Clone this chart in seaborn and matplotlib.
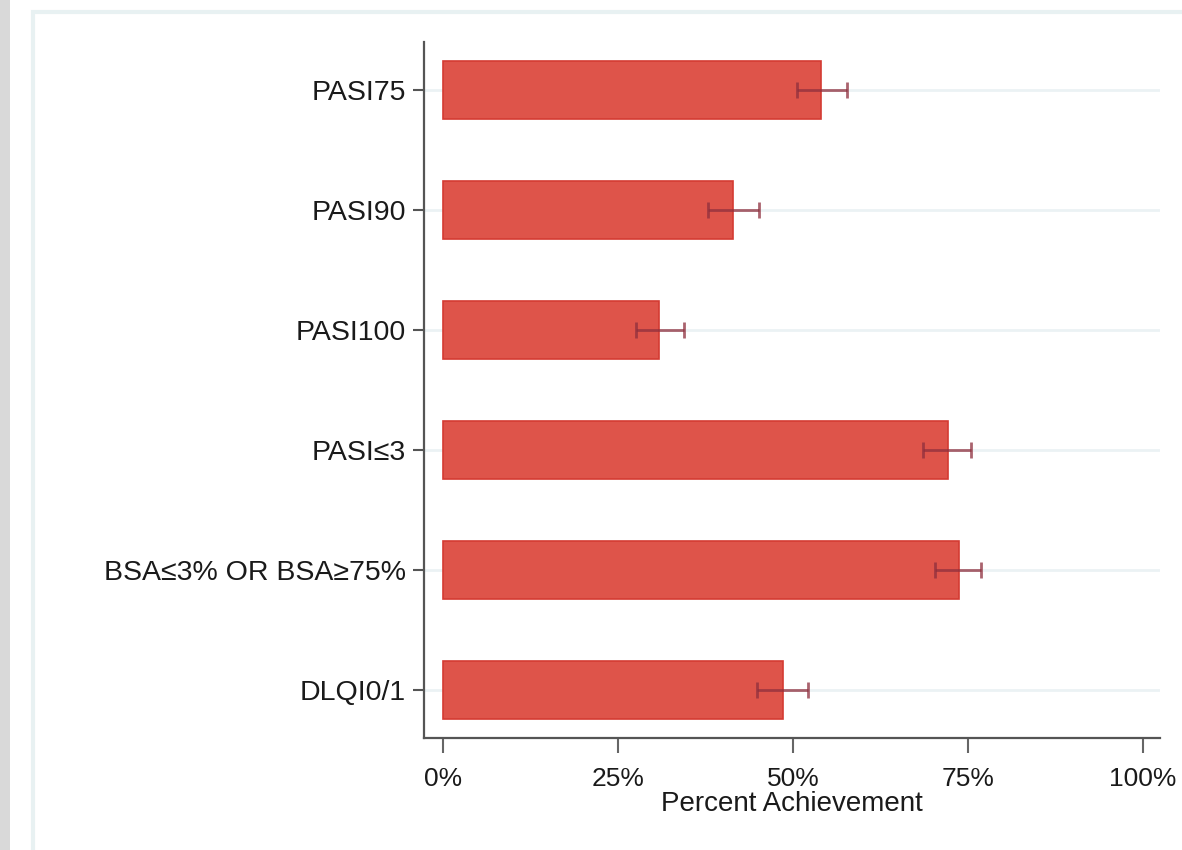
import matplotlib
matplotlib.use("Agg")
import matplotlib.pyplot as plt
import matplotlib.patches as mpatches
import seaborn as sns
import pandas as pd
import numpy as np
from matplotlib.ticker import FuncFormatter

# Outcome measures and percent achieved, with 95% confidence limits
outcomes = ["PASI75", "PASI90", "PASI100", "PASI≤3", "BSA≤3% OR BSA≥75%", "DLQI0/1"]
percent = [54.0, 41.4, 30.9, 72.1, 73.7, 48.5]
ci_low = [50.5, 37.9, 27.6, 68.6, 70.3, 44.8]
ci_high = [57.7, 45.1, 34.4, 75.4, 76.9, 52.2]
xticks = [0, 25, 50, 75, 100]

sns.set_theme(style="white")
plt.rcParams["font.family"] = ["Liberation Sans", "DejaVu Sans"]

df = pd.DataFrame({"outcome": outcomes, "percent": percent})

fig = plt.figure(figsize=(11.82, 8.5), dpi=100)
fig.patch.set_facecolor("white")

# page background: grey strip on the left and a faint panel outline
fig.add_artist(mpatches.Rectangle((0, 0), 10 / 1182, 1, transform=fig.transFigure,
                                  facecolor="#d9d9d9", edgecolor="none", zorder=0))
fig.add_artist(mpatches.Rectangle((33 / 1182, -0.05), 1.2, 1 - 12 / 850 + 0.05,
                                  transform=fig.transFigure, facecolor="white",
                                  edgecolor="#e8f1f2", linewidth=3, zorder=0))

ax = fig.add_axes([424 / 1182, 1 - 738 / 850, (1160 - 424) / 1182, (738 - 42) / 850])
ax.set_facecolor("none")

sns.barplot(data=df, x="percent", y="outcome", orient="h", ax=ax,
            color="#de544a", saturation=1, width=0.49, errorbar=None,
            edgecolor="#d43b32", linewidth=1.2, zorder=3)

ypos = np.arange(len(outcomes))
pct = np.array(percent)
xerr = np.vstack([pct - np.array(ci_low), np.array(ci_high) - pct])
ax.errorbar(pct, ypos, xerr=xerr, fmt="none", ecolor="#8e2f3d", alpha=0.75,
            elinewidth=2, capsize=6, capthick=2, zorder=4)

ax.set_xlim(-19 / 7, 100 + 17 / 7)
ax.set_ylim(len(outcomes) - 0.6, -0.4)
ax.set_xticks(xticks)
ax.xaxis.set_major_formatter(FuncFormatter(lambda v, p: f"{v:.0f}%"))

ax.grid(False)
for y in ypos:
    ax.axhline(y, color="#ebf2f4", linewidth=2, zorder=1)

for side in ("top", "right"):
    ax.spines[side].set_visible(False)
for side in ("left", "bottom"):
    ax.spines[side].set_color("#555555")
    ax.spines[side].set_linewidth(1.6)

ax.tick_params(axis="y", which="major", left=True, length=8, width=1.5,
               color="#555555", labelsize=20.5, pad=5, labelcolor="#1a1a1a")
ax.tick_params(axis="x", which="major", bottom=True, length=11, width=1.5,
               color="#666666", labelsize=19, pad=10, labelcolor="#1a1a1a")

ax.set_ylabel("")
ax.set_xlabel("Percent Achievement", fontsize=20, color="#1a1a1a", labelpad=0)

fig.savefig("out.png", dpi=100)
